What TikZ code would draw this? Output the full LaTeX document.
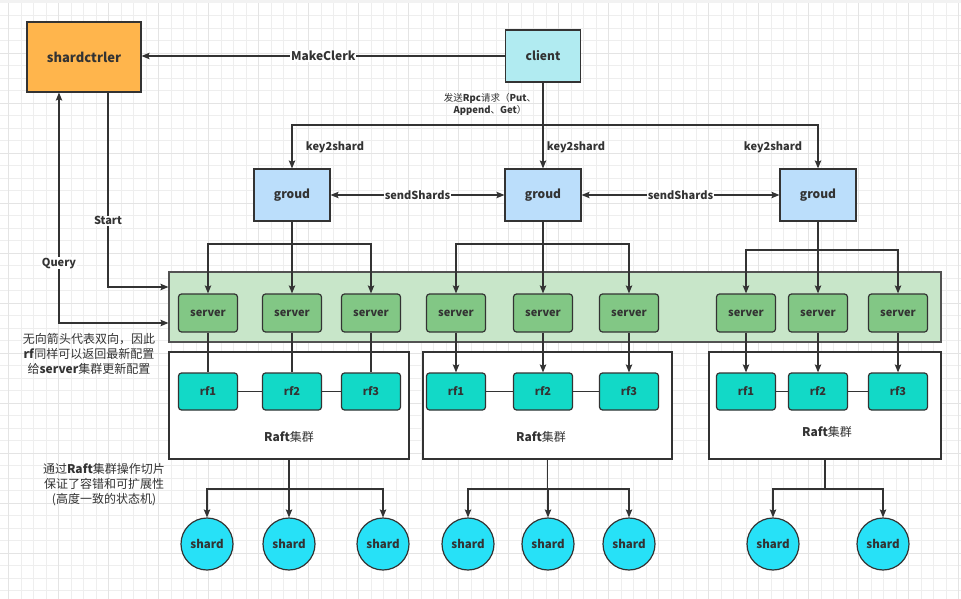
\documentclass[tikz,border=0pt]{standalone}
\usepackage{fontspec}
\setmainfont{Noto Sans CJK SC}
\usetikzlibrary{arrows.meta}
\definecolor{ink}{HTML}{333333}
\definecolor{gridline}{HTML}{EEEEEE}
\definecolor{gridmajor}{HTML}{E4E4E4}
\definecolor{ctrlfill}{HTML}{FFB54C}
\definecolor{clientfill}{HTML}{B1EBF1}
\definecolor{groudfill}{HTML}{BBDEFB}
\definecolor{bandfill}{HTML}{C8E6C9}
\definecolor{serverfill}{HTML}{82C785}
\definecolor{rffill}{HTML}{12D9C7}
\definecolor{shardfill}{HTML}{27E1F7}

\begin{document}
\begin{tikzpicture}[x=1pt,y=-1pt,>={Stealth[length=8pt,width=6.5pt,inset=1.5pt]},
  link/.style={ink,line width=1.2pt},
  box/.style={draw=ink,line width=1.2pt,text=ink,inner sep=0pt,
    font=\bfseries\fontsize{12}{14}\selectfont},
  server/.style={box,fill=serverfill,rounded corners=3pt,minimum width=59pt,
    minimum height=38pt,font=\bfseries\fontsize{11}{13}\selectfont},
  rf/.style={server,fill=rffill,minimum height=37pt},
  shard/.style={box,circle,fill=shardfill,minimum size=52pt,
    font=\bfseries\fontsize{11.5}{13}\selectfont},
  lbl/.style={text=ink,inner sep=1pt,font=\bfseries\fontsize{11}{13}\selectfont},
  note/.style={text=ink,align=center,inner sep=0pt,font=\fontsize{12}{15}\selectfont}]
  \useasboundingbox (0,0) rectangle (961,599);

  % Background grid of the drawing canvas
  \fill[white] (0,0) rectangle (961,599);
  \foreach \x in {8.3,20.8,...,961}
    \draw[gridline,line width=0.6pt] (\x,3)--(\x,599);
  \foreach \y in {15.5,28,...,599}
    \draw[gridline,line width=0.6pt] (0,\y)--(961,\y);
  \foreach \x in {8.3,58.3,...,961}
    \draw[gridmajor,line width=0.8pt] (\x,3)--(\x,599);
  \foreach \y in {53,103,...,599}
    \draw[gridmajor,line width=0.8pt] (0,\y)--(961,\y);
  \fill[gray!10] (0,0) rectangle (961,3);

  % Controller and client
  \node[box,fill=ctrlfill,minimum width=114pt,minimum height=70pt,
    font=\bfseries\fontsize{13}{15}\selectfont] (ctrl) at (84,57) {shardctrler};
  \node[box,fill=clientfill,minimum width=75pt,minimum height=52pt] (client) at (543,56) {client};
  \draw[link,->] (client.west) -- (client.west -| ctrl.east)
    node[lbl,fill=white,midway,font=\bfseries\fontsize{12}{14}\selectfont] {MakeClerk};

  % Replica groups
  \node[box,fill=groudfill,minimum width=76pt,minimum height=52pt] (g1) at (292,195) {groud};
  \node[box,fill=groudfill,minimum width=76pt,minimum height=52pt] (g2) at (543,195) {groud};
  \node[box,fill=groudfill,minimum width=76pt,minimum height=52pt] (g3) at (818,195) {groud};
  \draw[link,<->] (g1) -- (g2) node[lbl,fill=white,midway] {sendShards};
  \draw[link,<->] (g2) -- (g3) node[lbl,fill=white,midway] {sendShards};

  % Requests from the client
  \coordinate (rpc) at (543,125);
  \draw[link] (client) -- (rpc);
  \draw[link,->] (rpc) -| (g1.north);
  \draw[link,->] (rpc) -- (g2.north);
  \draw[link,->] (rpc) -| (g3.north);
  \node[note,font=\fontsize{9.5}{12}\selectfont] (rpcnote) at (490,104)
    {发送\textbf{Rpc}请求（\textbf{Put}、\\\textbf{Append}、\textbf{Get}）};
  \node[lbl] (k1) at (335,147) {key2shard};
  \node[lbl] (k2) at (576,147) {key2shard};
  \node[lbl] (k3) at (773,147) {key2shard};

  % Server layer
  \node[draw=ink!85,line width=1.1pt,fill=bandfill,minimum width=772pt,
    minimum height=70pt,inner sep=0pt] (band) at (555,307) {};
  \foreach \n/\x in {11/208,12/292,13/371,21/456,22/543,23/629,31/746,32/818,33/898}
    \node[server] (s\n) at (\x,313) {server};
  \coordinate (t1) at (292,244);
  \coordinate (t2) at (543,244);
  \coordinate (t3) at (818,250);
  \foreach \g in {1,2,3} {
    \draw[link] (g\g) -- (t\g);
    \draw[link,->] (t\g) -| (s\g1.north);
    \draw[link,->] (t\g) -- (s\g2.north);
    \draw[link,->] (t\g) -| (s\g3.north);
  }

  % Controller links
  \draw[link,->] ([xshift=24pt]ctrl.south) |- ([yshift=20pt]band.west)
    node[lbl,fill=white,pos=0.33] {Start};
  \draw[link,<->] ([xshift=-25pt]ctrl.south) |- ([yshift=-16pt]band.west)
    node[lbl,fill=white,pos=0.37] {Query};
  \node[note] (undir) at (89,354)
    {无向箭头代表双向，因此\\\textbf{rf}同样可以返回最新配置\\给\textbf{server}集群更新配置};

  % Raft clusters
  \node[draw=ink,line width=1.1pt,fill=white,minimum width=240pt,minimum height=107pt] (r1) at (289,405.5) {};
  \node[draw=ink,line width=1.1pt,fill=white,minimum width=249pt,minimum height=107pt] (r2) at (547.5,405.5) {};
  \node[draw=ink,line width=1.1pt,fill=white,minimum width=232pt,minimum height=107pt] (r3) at (825,405.5) {};
  \node[note] (rl1) at (289,437) {\textbf{Raft}集群};
  \node[note] (rl2) at (541,437) {\textbf{Raft}集群};
  \node[note] (rl3) at (827,432) {\textbf{Raft}集群};
  \foreach \n/\x/\t in {11/208/rf1,12/292/rf2,13/371/rf3,21/456/rf1,22/543/rf2,23/629/rf3,
                        31/746/rf1,32/818/rf2,33/898/rf3}
    \node[rf] (f\n) at (\x,391.5) {\t};
  \foreach \g in {1,2,3}
    \draw[link] (f\g1) -- (f\g2) -- (f\g3);
  % undirected in the first group
  \foreach \i in {1,2,3}
    \draw[link] (s1\i) -- (f1\i);
  \foreach \g in {2,3}
    \foreach \i in {1,2,3}
      \draw[link,->] (s\g\i) -- (f\g\i);

  % Shards
  \foreach \n/\x in {11/207,12/289,13/383,21/468,22/548,23/629,31/773,32/883}
    \node[shard] (h\n) at (\x,544) {shard};
  \coordinate (b1) at (289,489);
  \coordinate (b2) at (547.5,489);
  \coordinate (b3) at (825,489);
  \foreach \g in {1,2,3}
    \draw[link] (r\g.south) -- (b\g);
  \draw[link,->] (b1) -| (h11.north);
  \draw[link,->] (b1) -- (h12.north);
  \draw[link,->] (b1) -| (h13.north);
  \draw[link,->] (b2) -| (h21.north);
  \draw[link,->] (b2) -| (h22.north);
  \draw[link,->] (b2) -| (h23.north);
  \draw[link,->] (b3) -| (h31.north);
  \draw[link,->] (b3) -| (h32.north);
  \node[note] (raftnote) at (104,485)
    {通过\textbf{Raft}集群操作切片\\保证了容错和可扩展性\\(高度一致的状态机)};
\end{tikzpicture}
\end{document}
